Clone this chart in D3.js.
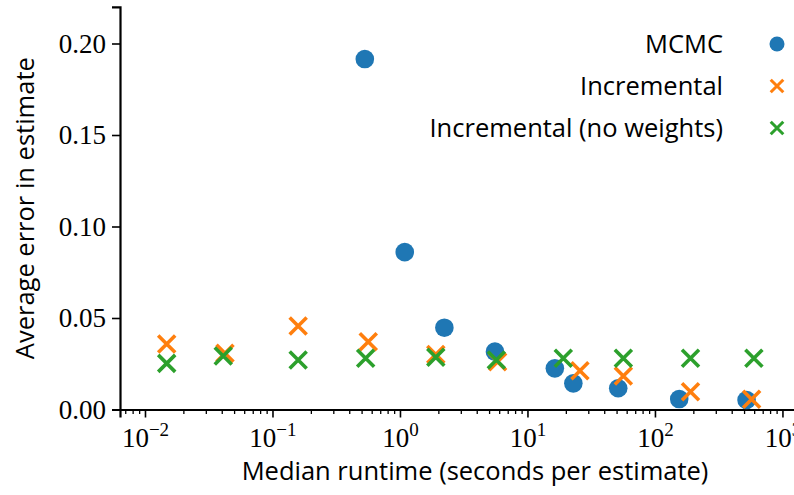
<!DOCTYPE html>
<html>
<head>
<meta charset="utf-8">
<script src="https://cdn.jsdelivr.net/npm/d3@7"></script>
<style>
  body { margin: 0; background: #fff; }
  svg { display: block; }
</style>
</head>
<body>
<div id="chart"></div>
<script>
// runtime (s) and error per method
const mcmcX = [0.53, 1.09, 2.23, 5.56, 16.4, 22.9, 51.5, 155, 523];
const mcmcY = [0.1915, 0.086, 0.0447, 0.0316, 0.0225, 0.0143, 0.0116, 0.0057, 0.0052];

const incX = [0.0148, 0.0424, 0.159, 0.564, 1.91, 5.83, 25.8, 56.5, 190, 573];
const incY = [0.0358, 0.0307, 0.0456, 0.037, 0.030, 0.0261, 0.0212, 0.0183, 0.0097, 0.0056];

const nwX = [0.0148, 0.0411, 0.159, 0.538, 1.91, 5.7, 19.1, 56.5, 190, 597];
const nwY = [0.0252, 0.0292, 0.027, 0.028, 0.0285, 0.027, 0.028, 0.028, 0.028, 0.028];

const yTicks = [0, 0.05, 0.10, 0.15, 0.20];
const xPowers = [-2, -1, 0, 1, 2, 3];

const legendNames = ["MCMC", "Incremental", "Incremental (no weights)"];
const colors = {blue: "#1f77b4", orange: "#ff7f0e", green: "#2ca02c"};

function chart() {
  const width = 794;
  const height = 495;
  const left = 120, right = 830, top = 6.9, bottom = 409.5;

  const svg = d3.select("#chart").append("svg")
      .attr("width", width)
      .attr("height", height);

  const x = d3.scaleLog()
      .domain([Math.pow(10, -2.196), Math.pow(10, 3.373)])
      .range([left, right]);

  const y = d3.scaleLinear()
      .domain([0, 0.22])
      .range([bottom, top]);

  const serif = "'Liberation Serif', 'DejaVu Serif', serif";
  const sans = "'Open Sans', 'DejaVu Sans', sans-serif";

  // minor ticks 2..9 per decade
  const minor = [];
  for (let p = -3; p <= 3; p++) {
    for (let m = 2; m <= 9; m++) {
      const v = m * Math.pow(10, p);
      if (v >= x.domain()[0] && v <= x.domain()[1]) minor.push(v);
    }
  }

  svg.append("g")
      .attr("transform", `translate(0,${bottom})`)
      .call(d3.axisBottom(x).tickValues(minor).tickSize(4.5).tickFormat(""))
      .call(g => g.select(".domain").remove())
      .call(g => g.selectAll("line").attr("stroke", "#000").attr("stroke-width", 1.3));

  const xAxis = svg.append("g")
      .attr("transform", `translate(0,${bottom})`)
      .call(d3.axisBottom(x).tickValues(xPowers.map(p => Math.pow(10, p))).tickSize(8).tickFormat(""))
      .call(g => g.select(".domain").attr("stroke", "#000").attr("stroke-width", 2.2))
      .call(g => g.selectAll("line").attr("stroke", "#000").attr("stroke-width", 1.6));

  // 10^p labels with superscripts
  xAxis.selectAll(".tick")
    .append("text")
      .attr("y", 37)
      .attr("fill", "#000")
      .attr("font-family", serif)
      .attr("font-size", 27)
      .attr("text-anchor", "middle")
      .each(function (d) {
        const p = Math.round(Math.log10(d));
        const t = d3.select(this);
        t.append("tspan").text("10");
        t.append("tspan")
            .attr("dy", -11)
            .attr("font-size", 19)
            .text(p < 0 ? "\u2212" + (-p) : String(p));
      });

  svg.append("g")
      .attr("transform", `translate(${left},0)`)
      .call(d3.axisLeft(y).tickValues(yTicks).tickSize(8).tickPadding(6).tickFormat(d3.format(".2f")))
      .call(g => g.select(".domain").attr("stroke", "#000").attr("stroke-width", 2.2))
      .call(g => g.selectAll("line").attr("stroke", "#000").attr("stroke-width", 1.6))
      .call(g => g.selectAll("text")
          .attr("fill", "#000")
          .attr("font-family", serif)
          .attr("font-size", 27));

  // axis labels
  svg.append("text")
      .attr("x", 475)
      .attr("y", 480)
      .attr("text-anchor", "middle")
      .attr("font-family", sans)
      .attr("font-size", 25.5)
      .attr("fill", "#000")
      .text("Median runtime (seconds per estimate)");

  svg.append("text")
      .attr("transform", `translate(34,${(top + bottom) / 2}) rotate(-90)`)
      .attr("text-anchor", "middle")
      .attr("font-family", sans)
      .attr("font-size", 25.5)
      .attr("fill", "#000")
      .text("Average error in estimate");

  const cross = (g, s, color, sw) => {
    g.append("path")
        .attr("d", `M${-s},${-s}L${s},${s}M${-s},${s}L${s},${-s}`)
        .attr("stroke", color)
        .attr("stroke-width", sw)
        .attr("fill", "none");
  };

  const plot = svg.append("g");

  plot.selectAll("circle.mcmc")
    .data(d3.zip(mcmcX, mcmcY))
    .join("circle")
      .attr("class", "mcmc")
      .attr("cx", d => x(d[0]))
      .attr("cy", d => y(d[1]))
      .attr("r", 9.3)
      .attr("fill", colors.blue);

  plot.selectAll("g.inc")
    .data(d3.zip(incX, incY))
    .join("g")
      .attr("class", "inc")
      .attr("transform", d => `translate(${x(d[0])},${y(d[1])})`)
      .each(function () { cross(d3.select(this), 8.5, colors.orange, 3.6); });

  plot.selectAll("g.nw")
    .data(d3.zip(nwX, nwY))
    .join("g")
      .attr("class", "nw")
      .attr("transform", d => `translate(${x(d[0])},${y(d[1])})`)
      .each(function () { cross(d3.select(this), 8.5, colors.green, 3.6); });

  // legend, labels to the left of markers
  const legend = svg.append("g");
  const markerX = 777, textX = 723;
  legendNames.forEach((name, i) => {
    const cy = 44 + i * 42;
    legend.append("text")
        .attr("x", textX)
        .attr("y", cy + 9)
        .attr("text-anchor", "end")
        .attr("font-family", sans)
        .attr("font-size", 25.5)
        .attr("fill", "#000")
        .text(name);
    const m = legend.append("g").attr("transform", `translate(${markerX},${cy})`);
    if (i === 0) m.append("circle").attr("r", 7.5).attr("fill", colors.blue);
    else cross(m, 6.3, i === 1 ? colors.orange : colors.green, 3);
  });

  return svg.node();
}

chart();
</script>
</body>
</html>
